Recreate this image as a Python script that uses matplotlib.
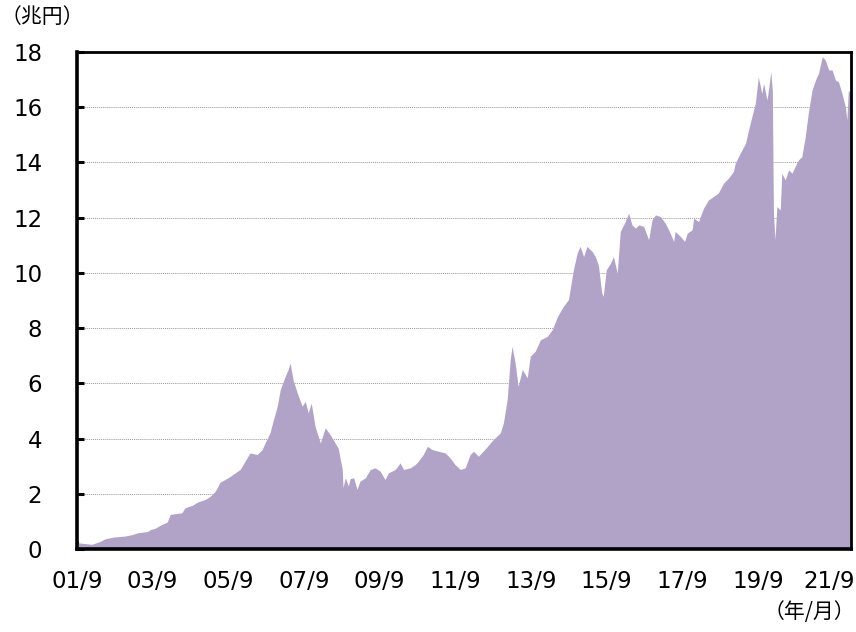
import numpy as np
import matplotlib.pyplot as plt
import matplotlib.transforms as mtransforms

# balance (trillion yen); time as decimal year
t = [2001.667, 2001.85, 2002.06, 2002.27, 2002.41, 2002.62, 2002.94, 2003.12, 2003.28, 2003.52,
     2003.62, 2003.73, 2003.91, 2004.05, 2004.13, 2004.26, 2004.44, 2004.52, 2004.71, 2004.87,
     2005.05, 2005.19, 2005.32, 2005.45, 2005.66, 2005.79, 2005.98, 2006.11, 2006.24, 2006.43,
     2006.56, 2006.64, 2006.77, 2006.85, 2006.96, 2007.04, 2007.17, 2007.25, 2007.30, 2007.38,
     2007.49, 2007.62, 2007.70, 2007.78, 2007.86, 2007.96, 2008.10, 2008.23, 2008.36, 2008.49,
     2008.57, 2008.68, 2008.70, 2008.76, 2008.84, 2008.89, 2008.98, 2009.07, 2009.15, 2009.29,
     2009.42, 2009.55, 2009.68, 2009.81, 2009.90, 2010.08, 2010.21, 2010.30, 2010.48, 2010.61,
     2010.69, 2010.82, 2010.93, 2011.06, 2011.22, 2011.40, 2011.53, 2011.66, 2011.80, 2011.93,
     2012.06, 2012.15, 2012.28, 2012.41, 2012.52, 2012.67, 2012.86, 2012.94, 2013.04, 2013.12,
     2013.17, 2013.25, 2013.33, 2013.44, 2013.57, 2013.65, 2013.78, 2013.92, 2014.10, 2014.23,
     2014.37, 2014.52, 2014.66, 2014.79, 2014.89, 2014.97, 2015.06, 2015.15, 2015.29, 2015.37,
     2015.45, 2015.54, 2015.58, 2015.66, 2015.77, 2015.85, 2015.95, 2016.03, 2016.16, 2016.25,
     2016.34, 2016.43, 2016.52, 2016.65, 2016.78, 2016.87, 2016.96, 2017.09, 2017.22, 2017.35,
     2017.44, 2017.48, 2017.62, 2017.73, 2017.80, 2017.93, 2017.97, 2018.10, 2018.23, 2018.36,
     2018.49, 2018.62, 2018.76, 2018.89, 2019.02, 2019.07, 2019.20, 2019.34, 2019.42, 2019.51,
     2019.60, 2019.68, 2019.77, 2019.82, 2019.91, 2020.01, 2020.05, 2020.08, 2020.12, 2020.17,
     2020.26, 2020.30, 2020.39, 2020.48, 2020.57, 2020.65, 2020.74, 2020.83, 2020.92, 2021.00,
     2021.10, 2021.19, 2021.27, 2021.37, 2021.45, 2021.54, 2021.63, 2021.72, 2021.80, 2021.89,
     2021.98, 2022.02, 2022.06, 2022.13]
balance = [0.23, 0.20, 0.17, 0.27, 0.37, 0.43, 0.47, 0.52, 0.59, 0.63,
           0.71, 0.75, 0.89, 0.97, 1.25, 1.28, 1.31, 1.49, 1.58, 1.71,
           1.79, 1.91, 2.09, 2.42, 2.58, 2.70, 2.88, 3.18, 3.48, 3.42,
           3.60, 3.84, 4.21, 4.63, 5.17, 5.77, 6.25, 6.50, 6.74, 6.13,
           5.65, 5.17, 5.35, 4.93, 5.29, 4.44, 3.84, 4.39, 4.14, 3.84,
           3.66, 2.88, 2.22, 2.58, 2.28, 2.55, 2.58, 2.16, 2.46, 2.58,
           2.88, 2.94, 2.82, 2.52, 2.76, 2.88, 3.12, 2.88, 2.94, 3.06,
           3.18, 3.42, 3.72, 3.60, 3.54, 3.48, 3.30, 3.06, 2.88, 2.94,
           3.42, 3.54, 3.36, 3.55, 3.72, 3.96, 4.21, 4.57, 5.41, 6.86,
           7.34, 6.74, 5.89, 6.50, 6.20, 6.98, 7.16, 7.58, 7.70, 7.94,
           8.42, 8.78, 9.03, 10.11, 10.72, 10.96, 10.59, 10.96, 10.77, 10.59,
           10.29, 9.27, 9.15, 10.11, 10.35, 10.59, 9.99, 11.50, 11.86, 12.16,
           11.74, 11.62, 11.74, 11.68, 11.20, 11.92, 12.10, 12.04, 11.80, 11.44,
           11.14, 11.50, 11.32, 11.14, 11.44, 11.56, 11.98, 11.86, 12.34, 12.64,
           12.76, 12.89, 13.25, 13.43, 13.67, 13.97, 14.33, 14.69, 15.17, 15.66,
           16.14, 17.10, 16.50, 16.86, 16.26, 17.28, 16.62, 12.16, 11.20, 12.40,
           12.28, 13.61, 13.37, 13.73, 13.61, 13.85, 14.09, 14.21, 14.93, 15.78,
           16.62, 16.98, 17.23, 17.83, 17.71, 17.35, 17.35, 16.98, 16.92, 16.50,
           16.02, 15.54, 16.62, 16.44]

tick_labels = ['01/9', '03/9', '05/9', '07/9', '09/9', '11/9', '13/9', '15/9', '17/9', '19/9', '21/9']
y_ticks = [0, 2, 4, 6, 8, 10, 12, 14, 16, 18]

fig = plt.figure(figsize=(8.56, 6.32), dpi=100)
ax = fig.add_axes([77/856, 1 - 549/632, 774/856, 497/632])

ax.fill_between(t, balance, 0, color='#b1a2c8', lw=0, zorder=2)

# dotted grid behind the area
for y in y_ticks[1:-1]:
    ax.axhline(y, color='#999999', lw=0.7, ls=(0, (1, 1)), zorder=1)

ax.set_xlim(2001.667, 2022.13)
ax.set_ylim(0, 18)
ax.set_xticks([2001.667 + 2*i for i in range(len(tick_labels))])
ax.set_xticklabels(tick_labels)
ax.set_yticks(y_ticks)

for s in ['left', 'bottom']:
    ax.spines[s].set_linewidth(2.6)
for s in ['top', 'right']:
    ax.spines[s].set_linewidth(2.0)

ax.tick_params(axis='y', direction='in', length=5, width=2.2, pad=25, labelsize=16.5)
ax.tick_params(axis='x', direction='in', length=6, width=2.0, pad=15, labelsize=16.5)

# last x label sits against the right edge, nudge it in a little
last = ax.get_xticklabels()[-1]
last.set_transform(last.get_transform() + mtransforms.ScaledTranslation(-4/100, 0, fig.dpi_scale_trans))

fig.text(1/856, 1 - 17/632, '（兆円）', family=['Noto Sans CJK JP'], fontsize=15, ha='left', va='center')
fig.text(855/856, 1 - 612/632, '（年/月）', family=['Noto Sans CJK JP'], fontsize=15, ha='right', va='center')

plt.savefig('out.png', dpi=100)
